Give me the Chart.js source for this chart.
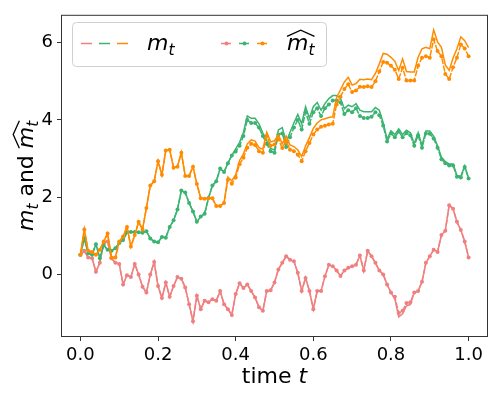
<!DOCTYPE html>
<html>
<head>
<meta charset="utf-8">
<script src="https://cdn.jsdelivr.net/npm/chart.js@4.4.1/dist/chart.umd.min.js"></script>
<style>
  body { margin: 0; background: #fff; }
  canvas { display: block; }
</style>
</head>
<body>
<canvas id="myChart" width="498" height="399"></canvas>
<script>
// sampling grid: 101 points on [0, 1]
const nSteps = 100

const xTicks = [0, 0.2, 0.4, 0.6, 0.8, 1.0]
const yTicks = [0, 2, 4, 6]

// pink series
const pinkM = [0.51, 0.61, 0.44, 0.42, 0.07, 0.30, 0.81, 0.85, 0.42, 0.30,
  0.27, -0.26, -0.02, -0.07, 0.27, 0.00, -0.32, -0.47, 0.00, 0.32,
  -0.30, -0.61, -0.21, -0.58, -0.30, -0.07, -0.11, -0.34, -0.77, -1.21,
  -0.55, -0.90, -0.68, -0.72, -0.64, -0.68, -0.43, -0.77, -0.90, -1.05,
  -0.51, -0.23, -0.35, -0.26, -0.43, -0.60, -0.85, -0.94, -0.43, -0.41,
  -0.21, 0.13, 0.30, 0.47, 0.38, 0.34, 0.04, -0.43, -0.09, -0.43,
  -0.90, -0.43, -0.43, -0.05, 0.25, 0.21, 0.10, -0.04, 0.10, 0.17,
  0.21, 0.25, 0.49, 0.10, 0.61, 0.47, 0.30, 0.10, 0.00, -0.26,
  -0.47, -0.64, -1.10, -1.02, -0.81, -0.78, -0.47, -0.43, -0.19, 0.30,
  0.47, 0.64, 0.58, 1.02, 1.13, 1.79, 1.70, 1.36, 1.15, 0.85,
  0.44]
const pinkHat = [0.51, 0.61, 0.44, 0.42, 0.07, 0.30, 0.81, 0.85, 0.42, 0.30,
  0.27, -0.26, -0.02, -0.07, 0.27, 0.00, -0.32, -0.47, 0.00, 0.32,
  -0.30, -0.61, -0.21, -0.58, -0.30, -0.07, -0.11, -0.34, -0.77, -1.21,
  -0.55, -0.90, -0.68, -0.72, -0.64, -0.68, -0.43, -0.77, -0.90, -1.05,
  -0.51, -0.23, -0.35, -0.26, -0.43, -0.60, -0.85, -0.94, -0.43, -0.41,
  -0.21, 0.13, 0.30, 0.47, 0.38, 0.34, 0.04, -0.43, -0.09, -0.43,
  -0.90, -0.43, -0.43, -0.05, 0.25, 0.21, 0.10, -0.04, 0.10, 0.17,
  0.21, 0.25, 0.49, 0.10, 0.61, 0.47, 0.30, 0.10, 0.00, -0.26,
  -0.47, -0.58, -1.00, -0.94, -0.74, -0.72, -0.47, -0.43, -0.19, 0.30,
  0.47, 0.64, 0.58, 1.02, 1.13, 1.79, 1.70, 1.36, 1.15, 0.85,
  0.44]

// green series
const greenM = [0.51, 0.93, 0.55, 0.51, 0.78, 0.42, 0.76, 0.64, 0.61, 0.68,
  0.81, 0.89, 1.09, 1.10, 1.10, 1.09, 1.08, 1.12, 0.93, 0.85,
  0.83, 0.97, 0.95, 1.23, 1.40, 1.68, 2.17, 2.12, 1.85, 1.63,
  1.36, 1.50, 1.57, 1.98, 2.30, 2.41, 2.74, 2.65, 2.88, 3.08,
  3.25, 3.42, 3.68, 4.10, 4.04, 4.04, 3.90, 3.66, 3.46, 3.26,
  3.22, 3.74, 3.80, 3.42, 3.68, 3.92, 4.14, 3.90, 4.34, 4.04,
  4.34, 4.45, 4.25, 4.42, 4.55, 4.63, 4.63, 4.56, 4.29, 4.38,
  4.34, 4.42, 4.25, 4.21, 4.21, 4.21, 4.32, 4.25, 3.93, 3.50,
  3.72, 3.62, 3.77, 3.62, 3.73, 3.67, 3.38, 3.67, 3.34, 3.71,
  3.71, 3.58, 3.33, 3.03, 2.92, 2.86, 2.86, 2.56, 2.54, 2.81,
  2.49]
const greenHat = [0.51, 0.93, 0.55, 0.51, 0.78, 0.42, 0.76, 0.64, 0.61, 0.68,
  0.81, 0.89, 1.09, 1.10, 1.10, 1.09, 1.08, 1.12, 0.93, 0.85,
  0.83, 0.97, 0.95, 1.23, 1.40, 1.68, 2.17, 2.12, 1.85, 1.63,
  1.36, 1.50, 1.57, 1.98, 2.30, 2.41, 2.74, 2.65, 2.88, 3.08,
  3.18, 3.33, 3.58, 4.00, 3.92, 3.92, 3.80, 3.58, 3.38, 3.19,
  3.15, 3.62, 3.65, 3.30, 3.55, 3.80, 4.00, 3.75, 4.20, 3.90,
  4.20, 4.30, 4.10, 4.30, 4.40, 4.50, 4.50, 4.45, 4.15, 4.25,
  4.20, 4.30, 4.10, 4.05, 4.05, 4.08, 4.20, 4.12, 3.85, 3.44,
  3.65, 3.55, 3.70, 3.55, 3.66, 3.60, 3.33, 3.60, 3.28, 3.65,
  3.64, 3.52, 3.28, 2.98, 2.88, 2.82, 2.82, 2.53, 2.51, 2.78,
  2.48]

// orange series
const orangeM = [0.51, 1.16, 0.61, 0.58, 0.51, 0.64, 0.85, 1.06, 0.44, 0.44,
  0.85, 0.98, 1.23, 0.72, 1.02, 1.36, 1.16, 1.72, 2.30, 2.41,
  2.93, 2.58, 3.21, 3.23, 2.76, 2.79, 3.15, 2.55, 2.55, 2.79,
  2.34, 1.97, 1.96, 1.97, 1.97, 1.77, 1.77, 1.85, 2.52, 2.42,
  2.58, 2.95, 3.12, 3.38, 3.48, 3.45, 3.28, 3.24, 3.68, 3.43,
  3.46, 3.62, 3.38, 3.58, 3.35, 3.31, 3.22, 3.05, 3.32, 3.54,
  3.78, 3.92, 4.00, 4.03, 4.06, 4.08, 4.58, 4.78, 4.98, 5.10,
  4.90, 4.94, 5.05, 5.04, 5.06, 5.04, 5.20, 5.45, 5.72, 5.70,
  5.62, 5.52, 5.28, 5.58, 5.25, 5.24, 5.24, 5.62, 5.84, 5.88,
  5.84, 6.33, 6.02, 5.88, 5.42, 5.28, 5.60, 5.84, 6.15, 6.05,
  5.87]
const orangeHat = [0.51, 1.16, 0.61, 0.58, 0.51, 0.64, 0.85, 1.06, 0.44, 0.44,
  0.85, 0.98, 1.23, 0.72, 1.02, 1.36, 1.16, 1.72, 2.30, 2.41,
  2.93, 2.58, 3.21, 3.23, 2.76, 2.79, 3.15, 2.55, 2.55, 2.79,
  2.34, 1.97, 1.96, 1.97, 1.97, 1.77, 1.77, 1.85, 2.45, 2.35,
  2.51, 2.85, 3.02, 3.28, 3.38, 3.35, 3.19, 3.15, 3.58, 3.33,
  3.36, 3.50, 3.27, 3.45, 3.23, 3.19, 3.10, 2.93, 3.19, 3.40,
  3.62, 3.75, 3.82, 3.85, 3.88, 3.90, 4.40, 4.60, 4.80, 4.92,
  4.72, 4.76, 4.86, 4.85, 4.87, 4.85, 5.00, 5.25, 5.50, 5.48,
  5.40, 5.30, 5.06, 5.35, 5.02, 5.02, 5.02, 5.40, 5.61, 5.65,
  5.61, 6.08, 5.78, 5.65, 5.19, 5.06, 5.36, 5.61, 5.95, 5.85,
  5.65]

const pink = '#F08080'
const green = '#3CB371'
const orange = '#FF8C00'
const font = '"DejaVu Sans"'

const toPoints = (vals) => vals.map((v, i) => ({ x: i / nSteps, y: v }))

const solid = (vals, color, order) => ({
    data: toPoints(vals),
    borderColor: color,
    borderWidth: 1.5,
    pointRadius: 0,
    order: order
})

const dotted = (vals, color, order) => ({
    data: toPoints(vals),
    borderColor: color,
    backgroundColor: color,
    borderWidth: 1.5,
    borderDash: [6, 1.5],
    pointRadius: 2,
    pointBorderWidth: 0,
    pointBackgroundColor: color,
    order: order
})

// draw a run of mathtext-like pieces, returns width
function drawRuns(ctx, runs, x, y, size, draw) {
    let cx = x
    let hatFrom = null, hatTo = null
    for (const r of runs) {
        const fs = r.sub ? size * 0.7 : size
        ctx.font = (r.it ? 'italic ' : '') + fs + 'px ' + font
        const w = ctx.measureText(r.t).width
        if (draw) ctx.fillText(r.t, cx, y + (r.sub ? size * 0.24 : 0))
        if (r.hat) {
            if (hatFrom === null) hatFrom = cx
            hatTo = cx + w
        }
        cx += w + (r.gap || 0)
    }
    if (draw && hatFrom !== null) {
        const mid = (hatFrom + hatTo) / 2
        ctx.beginPath()
        ctx.moveTo(hatFrom, y - size * 0.62)
        ctx.lineTo(mid, y - size * 0.9)
        ctx.lineTo(hatTo, y - size * 0.62)
        ctx.lineWidth = 1.3
        ctx.strokeStyle = '#000'
        ctx.stroke()
    }
    return cx - x
}

const mRuns = [{ t: 'm', it: true }, { t: 't', it: true, sub: true }]
const mHatRuns = [{ t: 'm', it: true, hat: true }, { t: 't', it: true, sub: true, hat: true }]

const extras = {
    id: 'extras',
    afterDraw(chart) {
        const ctx = chart.ctx
        const a = chart.chartArea
        ctx.save()

        // frame
        ctx.strokeStyle = '#333'
        ctx.lineWidth = 1
        ctx.strokeRect(a.left + 0.5, a.top + 0.5, a.right - a.left - 1, a.bottom - a.top - 1)

        ctx.fillStyle = '#000'
        ctx.textBaseline = 'alphabetic'

        // x label
        const xRuns = [{ t: 'time ' }, { t: 't', it: true }]
        const xw = drawRuns(ctx, xRuns, 0, 0, 22, false)
        drawRuns(ctx, xRuns, (a.left + a.right) / 2 - xw / 2, 383, 22, true)

        // y label
        const yRuns = mRuns.concat([{ t: ' and ', gap: 0 }], mHatRuns)
        const yw = drawRuns(ctx, yRuns, 0, 0, 22, false)
        ctx.save()
        ctx.translate(33, (a.top + a.bottom) / 2)
        ctx.rotate(-Math.PI / 2)
        drawRuns(ctx, yRuns, -yw / 2, 0, 22, true)
        ctx.restore()

        // legend box
        const bx = 72, by = 22, bw = 254, bh = 44, r = 4
        ctx.beginPath()
        ctx.roundRect(bx + 0.5, by + 0.5, bw, bh, r)
        ctx.fillStyle = 'rgba(255,255,255,0.8)'
        ctx.fill()
        ctx.strokeStyle = '#d0d0d0'
        ctx.lineWidth = 1
        ctx.stroke()

        const cols = [pink, green, orange]
        const hy = 43.5
        const seg1 = [[81, 92], [99, 110], [117, 128]]
        const seg2 = [[221, 232], [239, 250], [257, 268]]
        ctx.lineWidth = 1.5
        seg1.forEach((s, k) => {
            ctx.strokeStyle = cols[k]
            ctx.beginPath()
            ctx.moveTo(s[0], hy)
            ctx.lineTo(s[1], hy)
            ctx.stroke()
        })
        seg2.forEach((s, k) => {
            ctx.strokeStyle = cols[k]
            ctx.setLineDash([4, 2])
            ctx.beginPath()
            ctx.moveTo(s[0], hy)
            ctx.lineTo(s[1], hy)
            ctx.stroke()
            ctx.setLineDash([])
            ctx.fillStyle = cols[k]
            ctx.beginPath()
            ctx.arc((s[0] + s[1]) / 2, hy, 2, 0, Math.PI * 2)
            ctx.fill()
        })
        ctx.fillStyle = '#000'
        drawRuns(ctx, mRuns, 147, 50, 22, true)
        drawRuns(ctx, mHatRuns, 287, 50, 22, true)

        ctx.restore()
    }
}

new Chart(document.getElementById('myChart'), {
    type: 'line',
    data: {
        datasets: [
            solid(orangeM, orange, 0),
            dotted(orangeHat, orange, 1),
            solid(greenM, green, 2),
            dotted(greenHat, green, 3),
            solid(pinkM, pink, 4),
            dotted(pinkHat, pink, 5)
        ]
    },
    options: {
        responsive: false,
        animation: false,
        devicePixelRatio: 1,
        layout: { padding: { top: 10, right: 10, left: 0, bottom: 0 } },
        plugins: {
            legend: { display: false },
            tooltip: { enabled: false }
        },
        scales: {
            x: {
                type: 'linear',
                min: -0.05,
                max: 1.05,
                afterBuildTicks: (s) => { s.ticks = xTicks.map(v => ({ value: v })) },
                afterFit: (s) => { s.height = 62 },
                border: { display: false },
                grid: { drawOnChartArea: false, drawTicks: true, tickLength: 4, color: '#333' },
                ticks: {
                    padding: 4,
                    color: '#000',
                    font: { family: 'DejaVu Sans', size: 18 },
                    maxRotation: 0,
                    callback: (v) => v.toFixed(1)
                }
            },
            y: {
                min: -1.62,
                max: 6.72,
                afterBuildTicks: (s) => { s.ticks = yTicks.map(v => ({ value: v })) },
                afterFit: (s) => { s.width = 61 },
                border: { display: false },
                grid: { drawOnChartArea: false, drawTicks: true, tickLength: 4, color: '#333' },
                ticks: {
                    padding: 4,
                    color: '#000',
                    font: { family: 'DejaVu Sans', size: 18 },
                    callback: (v) => String(v)
                }
            }
        }
    },
    plugins: [extras]
})
</script>
</body>
</html>
